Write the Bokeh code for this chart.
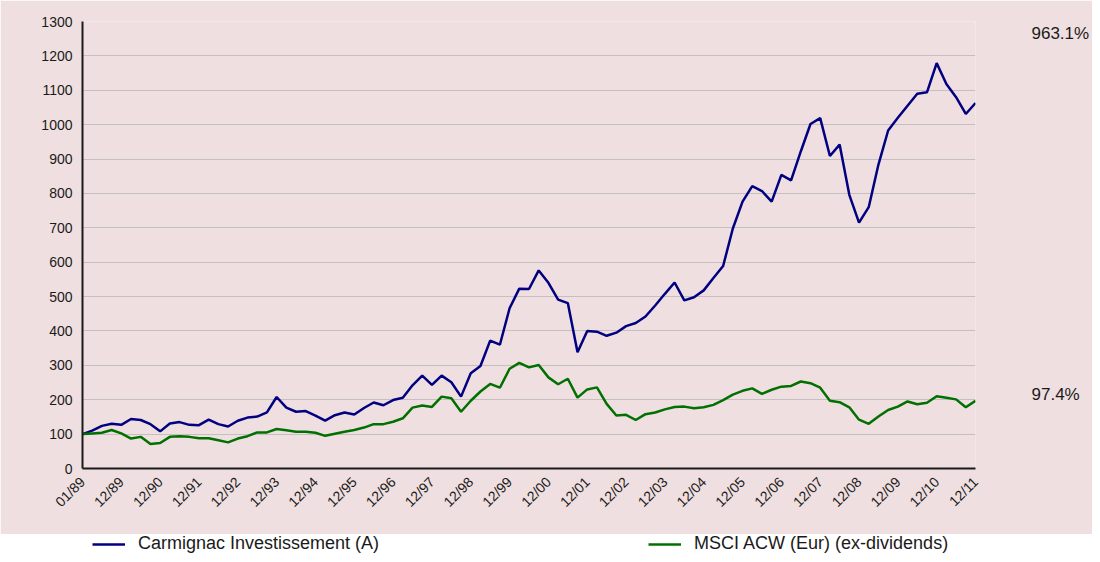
import math
from bokeh.plotting import figure
from bokeh.models import (FixedTicker, SingleIntervalTicker, Legend, LegendItem, Range1d,
                          LinearAxis)
from bokeh.embed import file_html
from bokeh.resources import INLINE

# Quarterly index values (base 100 at 01/89)
carmignac = [100, 110, 124, 130, 127, 144, 141, 129, 108, 131, 135, 127, 126, 142, 129, 122,
             139, 148, 151, 163, 208, 177, 165, 167, 154, 139, 155, 163, 157, 176, 192, 184,
             199, 206, 242, 270, 243, 270, 251, 209, 277, 298, 372, 360, 466, 523, 522, 576,
             540, 491, 481, 338, 400, 398, 386, 395, 414, 423, 442, 474, 508, 541, 489, 498,
             518, 554, 589, 698, 776, 821, 807, 776, 854, 838, 922, 1002, 1019, 909, 942, 796,
             715, 760, 884, 983, 1020, 1055, 1090, 1094, 1179, 1118, 1080, 1031, 1063]
msci = [100, 102, 104, 112, 102, 87, 92, 71, 74, 92, 94, 92, 88, 88, 82, 76,
        87, 94, 105, 105, 115, 111, 107, 107, 104, 95, 101, 107, 112, 119, 129, 129,
        136, 146, 177, 183, 179, 209, 204, 165, 197, 224, 246, 235, 290, 307, 294, 301,
        265, 245, 261, 206, 230, 236, 188, 154, 156, 141, 158, 163, 172, 179, 180, 175,
        178, 185, 199, 215, 226, 233, 217, 229, 238, 240, 253, 248, 235, 197, 193, 178,
        142, 130, 151, 170, 180, 195, 187, 191, 210, 206, 201, 178, 197]
tick_labels = ["01/89", "12/89", "12/90", "12/91", "12/92", "12/93", "12/94", "12/95",
               "12/96", "12/97", "12/98", "12/99", "12/00", "12/01", "12/02", "12/03",
               "12/04", "12/05", "12/06", "12/07", "12/08", "12/09", "12/10", "12/11"]
series_names = ["Carmignac Investissement (A)", "MSCI ACW (Eur) (ex-dividends)"]
end_labels = ["963.1%", "97.4%"]
end_label_levels = [1265, 215]

PINK = "#f0dfe0"
BLUE = "#000080"
GREEN = "#007000"
FONT = "Liberation Sans"
TXT = "#1a1a1a"

n = len(carmignac)
xs = list(range(n))
tick_pos = list(range(0, n, 4))

p = figure(width=1092, height=534, output_backend="svg", toolbar_location=None,
           x_range=Range1d(0, n - 1), y_range=Range1d(0, 1300),
           min_border_left=82, min_border_right=115, min_border_top=21, min_border_bottom=66)
p.border_fill_color = PINK
p.background_fill_color = PINK
p.outline_line_color = None

p.xgrid.grid_line_color = None
p.ygrid.grid_line_color = "#c4c0c0"
p.ygrid.grid_line_width = 1.2
p.yaxis.ticker = SingleIntervalTicker(interval=100)
p.xaxis.ticker = FixedTicker(ticks=tick_pos)
p.xaxis.major_label_overrides = {t: lbl for t, lbl in zip(tick_pos, tick_labels)}
p.xaxis.major_label_orientation = math.pi / 4

for ax in (p.xaxis[0], p.yaxis[0]):
    ax.axis_line_color = TXT
    ax.axis_line_width = 2
    ax.major_tick_line_color = None
    ax.minor_tick_line_color = None
    ax.major_tick_out = 0
    ax.major_tick_in = 0
    ax.minor_tick_out = 0
    ax.major_label_text_font = FONT
    ax.major_label_text_color = TXT
p.yaxis.major_label_text_font_size = "14px"
p.yaxis.major_label_standoff = 10
p.xaxis.major_label_text_font_size = "14px"
p.xaxis.major_label_standoff = 11

# Right-hand axis carrying the performance figures
right_ax = LinearAxis(ticker=FixedTicker(ticks=end_label_levels),
                      major_label_overrides={lv: t for lv, t in zip(end_label_levels, end_labels)},
                      axis_line_color=None, major_tick_line_color=None, minor_tick_line_color=None,
                      major_tick_out=0, major_tick_in=0, minor_tick_out=0,
                      major_label_standoff=56, major_label_text_font=FONT,
                      major_label_text_font_size="17px", major_label_text_color=TXT)
p.add_layout(right_ax, "right")

p.line(xs, carmignac, line_color=BLUE, line_width=2.5)
p.line(xs, msci, line_color=GREEN, line_width=2.5)

# Legend strip (white) below the chart
leg = figure(width=1092, height=20, output_backend="svg", toolbar_location=None,
             x_range=Range1d(0, 1), y_range=Range1d(0, 1),
             x_axis_type=None, y_axis_type=None, min_border=0,
             min_border_left=0, min_border_right=0, min_border_top=0, min_border_bottom=0)
leg.grid.visible = False
leg.outline_line_color = None
leg.border_fill_color = "white"
leg.background_fill_color = "white"
nan = float("nan")
lr1 = leg.line([nan], [nan], line_color=BLUE, line_width=2.5)
lr2 = leg.line([nan], [nan], line_color=GREEN, line_width=2.5)
legend = Legend(items=[LegendItem(label=series_names[0], renderers=[lr1]),
                       LegendItem(label=series_names[1], renderers=[lr2])],
                location=(92, 0), orientation="horizontal", padding=0, margin=0,
                spacing=269, glyph_width=33, glyph_height=20, label_height=20,
                label_standoff=13, border_line_alpha=0, background_fill_alpha=0,
                label_text_font=FONT, label_text_font_size="18px", label_text_color=TXT)
leg.add_layout(legend)

open("out.html", "w").write(file_html([p, leg], INLINE))
